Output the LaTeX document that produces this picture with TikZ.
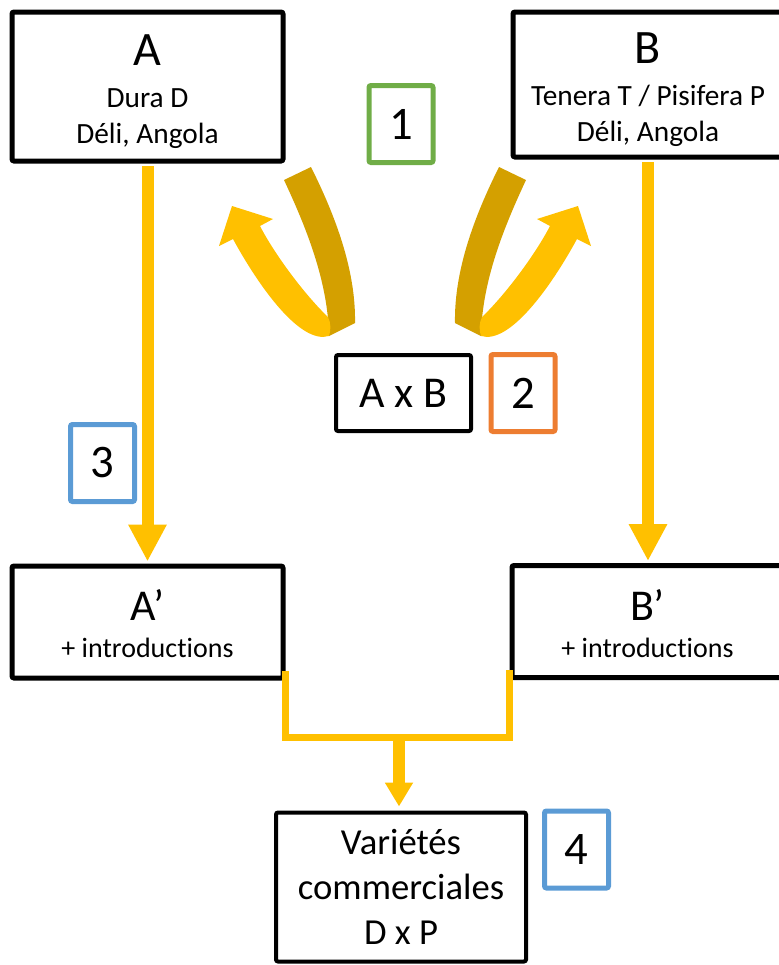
\documentclass[tikz,border=0pt]{standalone}
\usepackage{fontspec}
\setmainfont[Ligatures=NoCommon]{Carlito}
\usetikzlibrary{arrows.meta}
\definecolor{cxyellow}{HTML}{FFC000}
\definecolor{cxgold}{HTML}{D4A000}
\definecolor{cxgreen}{HTML}{70AD47}
\definecolor{cxorange}{HTML}{ED7D31}
\definecolor{cxblue}{HTML}{5B9BD5}
\newcommand\boxhead[1]{{\fontsize{36}{27}\selectfont\rule{0pt}{31pt}#1}}
\newcommand\boxprime[1]{{\fontsize{33}{31}\selectfont\rule{0pt}{26pt}#1}}

\begin{document}
\begin{tikzpicture}[x=0.75pt, y=-0.75pt,
  box/.style={draw, line width=3.75pt, rounded corners=1.5pt, align=center, inner sep=0pt},
  parent/.style={box, minimum width=203.25pt, font=\fontsize{22}{27}\selectfont},
  offspring/.style={box, minimum width=203.25pt, minimum height=84pt, font=\fontsize{21}{28}\selectfont},
  num/.style={box, minimum width=48pt, minimum height=57.75pt, font=\fontsize{35}{40}\selectfont},
  down/.style={-{Triangle[length=27.75pt, width=27pt]}, line width=9pt, draw=cxyellow},
  fork/.style={line width=5.25pt, draw=cxyellow}
]
\useasboundingbox (0,0) rectangle (779,965);
\clip (0,0) rectangle (779,965);
% ---------- parents ----------
\node[parent, minimum height=111.75pt] (a) at (147.5,86.5) {\boxhead{A}\\[4pt] Dura D\\ Déli, Angola};
\node[parent, minimum width=202.5pt, minimum height=108.75pt] (b) at (648,84.5) {\boxhead{B}\\[4pt] Tenera T / Pisifera P\\ Déli, Angola};
% ---------- crossing ----------
\node[box, line width=3pt, minimum width=101.25pt, minimum height=57pt, font=\fontsize{33}{40}\selectfont] (axb) at (403.5,393) {A x B};
\foreach \s/\o in {1/0, -1/810}{
  \begin{scope}[shift={(\o,0)}, xscale=\s]
    \fill[cxgold] (284,180) -- (311,167) .. controls (335,215) and (356,270) .. (355,323)
      -- (329,336) .. controls (328,280) and (305,225) .. (284,180) -- cycle;
    \fill[cxyellow] (329,336) .. controls (300,345) and (258,285) .. (233,239)
      -- (219,246) -- (232,206) -- (273,219) -- (260,226)
      .. controls (275,255) and (305,295) .. (328,317)
      .. controls (331,323) and (331,330) .. (329,336) -- cycle;
  \end{scope}}
% ---------- selection ----------
\node[offspring] (a2) at (147.5,622) {\boxprime{A’}\\ + introductions};
\node[offspring] (b2) at (647.5,621.5) {\boxprime{B’}\\ + introductions};
\draw[down, shorten <=2pt, shorten >=1.5pt] (a.south) -- (a.south |- a2.north);
\draw[down, shorten <=2pt, shorten >=1.5pt] (b.south) -- (b.south |- b2.north);
% ---------- hybrids ----------
\node[box, line width=3pt, minimum width=187.5pt, minimum height=111.75pt, font=\fontsize{27.5}{33.5}\selectfont] (var) at (401,887) {Variétés\\ commerciales\\ D x P};
\coordinate (j) at (399,737);
\draw[fork] ([yshift=7.5pt]a2.south east) |- (j) -| ([yshift=7.5pt]b2.south west);
\draw[-{Triangle[length=18pt, width=20pt]}, line width=9pt, draw=cxyellow, shorten >=3pt] (j) -- (j |- var.north);
% ---------- steps ----------
\node[num, draw=cxgreen] (n1) at (401,124) {1};
\node[num, draw=cxorange] (n2) at (523,393) {2};
\node[num, draw=cxblue] (n3) at (102.5,463) {3};
\node[num, draw=cxblue] (n4) at (576.5,849.5) {4};
\end{tikzpicture}
\end{document}
